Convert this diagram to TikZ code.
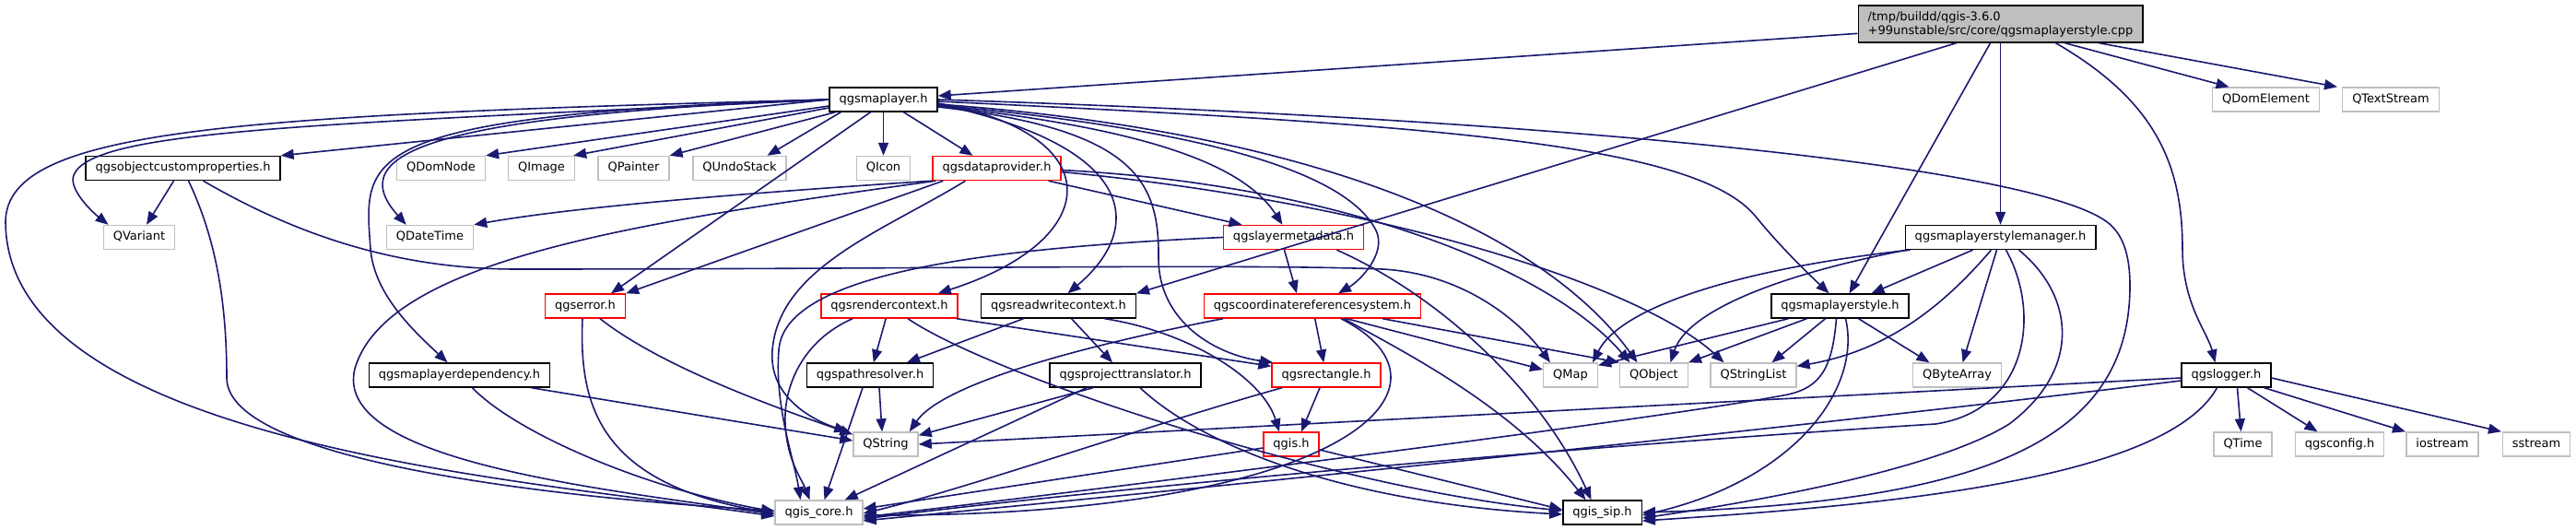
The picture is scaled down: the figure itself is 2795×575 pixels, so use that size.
\documentclass[tikz,border=0pt]{standalone}
\usepackage{fontspec}
\setmainfont{DejaVu Sans}
\usetikzlibrary{arrows.meta}
\definecolor{edgec}{HTML}{191970}
\definecolor{extc}{HTML}{BFBFBF}
\definecolor{redc}{HTML}{FF0000}
\definecolor{cppfill}{HTML}{BFBFBF}
\begin{document}
\begin{tikzpicture}[x=1pt,y=-1pt,
  nd/.style={line width=1.4pt, fill=white, inner xsep=10.5pt, inner ysep=0pt, minimum height=26pt, text height=9.6pt, text depth=2.9pt, font=\fontsize{13}{15}\selectfont},
  blk/.style={nd, draw=black},
  trn/.style={nd, draw=redc},
  ext/.style={nd, draw=extc},
  e/.style={draw=edgec, line width=1.6pt, -{Triangle[length=14pt,width=11pt]}}]
\fill[white] (0,0) rectangle (2795,575);
\useasboundingbox (0,0) rectangle (2795,575);

% nodes
\node[draw=black, line width=1.4pt, fill=cppfill, align=left, inner xsep=10.5pt, inner ysep=4pt, minimum height=40pt, font=\fontsize{13}{15}\selectfont] (CPP) at (2170.5,26) {/tmp/buildd/qgis-3.6.0\\+99unstable/src/core/qgsmaplayerstyle.cpp};
\node[ext] (QDomElement) at (2458.5,108) {QDomElement};
\node[ext] (QTextStream) at (2594,108) {QTextStream};
\node[blk] (ML) at (958.5,108) {qgsmaplayer.h};
\node[blk] (OCP) at (198.5,182.5) {qgsobjectcustomproperties.h};
\node[ext] (QDomNode) at (478.5,182.5) {QDomNode};
\node[ext] (QImage) at (587.5,182.5) {QImage};
\node[ext] (QPainter) at (687.5,182.5) {QPainter};
\node[ext] (QUndoStack) at (802.5,182.5) {QUndoStack};
\node[ext] (QIcon) at (958.5,182.5) {QIcon};
\node[trn] (DP) at (1081.5,182.5) {qgsdataprovider.h};
\node[ext] (QVariant) at (151,257.5) {QVariant};
\node[ext] (QDateTime) at (466.5,257.5) {QDateTime};
\node[trn] (LM) at (1403.5,257.5) {qgslayermetadata.h};
\node[blk] (SM) at (2170.5,257.5) {qgsmaplayerstylemanager.h};
\node[trn] (ERR) at (635,332) {qgserror.h};
\node[trn] (RC) at (965,332) {qgsrendercontext.h};
\node[blk] (RWC) at (1148.5,332) {qgsreadwritecontext.h};
\node[trn] (CRS) at (1424,332) {qgscoordinatereferencesystem.h};
\node[blk] (STY) at (1996.5,332) {qgsmaplayerstyle.h};
\node[blk] (MLD) at (498.5,407) {qgsmaplayerdependency.h};
\node[blk] (PR) at (944,407) {qgspathresolver.h};
\node[blk] (PT) at (1221,407) {qgsprojecttranslator.h};
\node[trn] (RECT) at (1439,407) {qgsrectangle.h};
\node[ext] (QMap) at (1704,407) {QMap};
\node[ext] (QObject) at (1794.5,407) {QObject};
\node[ext] (QStringList) at (1902.5,407) {QStringList};
\node[ext] (QByteArray) at (2123.5,407) {QByteArray};
\node[blk] (LOG) at (2415.5,407) {qgslogger.h};
\node[ext] (QString) at (961,482) {QString};
\node[trn] (QGIS) at (1401,482) {qgis.h};
\node[ext] (QTime) at (2433.5,482) {QTime};
\node[ext] (CFG) at (2538.5,482) {qgsconfig.h};
\node[ext] (IOS) at (2650,482) {iostream};
\node[ext] (SSS) at (2752,482) {sstream};
\node[ext] (CORE) at (888.5,556) {qgis\_core.h};
\node[blk] (SIP) at (1738.5,556) {qgis\_sip.h};

% cpp
\draw[e] (CPP) -- (ML);
\draw[e] ([xshift=-48pt]CPP.south) -- (RWC.north east);
\draw[e] ([xshift=-11pt]CPP.south) -- ([xshift=10pt]STY.north);
\draw[e] (CPP) -- (SM);
\draw[e] ([xshift=60pt]CPP.south) .. controls (2340,110) and (2368,180) .. (2368,270) .. controls (2368,330) and (2395,360) .. ([xshift=-12pt]LOG.north);
\draw[e] ([xshift=70pt]CPP.south) -- ([xshift=-40pt]QDomElement.north);
\draw[e] ([xshift=107pt]CPP.south) -- ([xshift=-58pt]QTextStream.north);
% qgsmaplayer.h
\draw[e] (ML.west) .. controls (250,125) and (8,140) .. (6,240) .. controls (6,480) and (560,520) .. ([yshift=-4pt]CORE.west);
\draw[e] (ML.west) .. controls (350,135) and (100,140) .. (80,190) .. controls (74,205) and (100,230) .. ([xshift=6pt]QVariant.north west);
\draw[e] (ML.west) -- (OCP.north east);
\draw[e] (ML.west) .. controls (470,125) and (370,165) .. ([xshift=22pt]QDateTime.north west);
\draw[e] (ML.west) .. controls (380,125) and (395,170) .. (402,270) .. controls (406,320) and (450,360) .. ([xshift=-13pt]MLD.north);
\draw[e] ([yshift=-7pt]ML.west) -- (QDomNode.north east);
\draw[e] ([yshift=-9pt]ML.west) -- ([xshift=-2pt]QImage.north east);
\draw[e] ([xshift=7pt]ML.south west) -- (QPainter.north east);
\draw[e] ([xshift=13pt]ML.south west) -- ([xshift=30pt]QUndoStack.north);
\draw[e] (ML) -- (QIcon);
\draw[e] ([xshift=22pt]ML.south) -- ([xshift=-26pt]DP.north);
\draw[e] ([xshift=-14pt]ML.south) -- ([xshift=28pt]ERR.north);
\draw[e] ([yshift=-4pt]ML.east) .. controls (1205,145) and (1200,260) .. ([xshift=-22pt]RC.north east);
\draw[e] ([yshift=-5pt]ML.east) .. controls (1240,160) and (1240,250) .. ([xshift=10pt]RWC.north);
\draw[e] ([yshift=-8pt]ML.east) .. controls (1230,140) and (1258,195) .. (1257,280) .. controls (1257,350) and (1320,385) .. ([xshift=2pt]RECT.north west);
\draw[e] ([yshift=-7pt]ML.east) .. controls (1250,140) and (1350,180) .. ([xshift=-12pt]LM.north);
\draw[e] ([yshift=-6pt]ML.east) .. controls (1300,140) and (1460,185) .. (1493,250) .. controls (1505,275) and (1475,305) .. ([xshift=28pt]CRS.north);
\draw[e] ([yshift=-5pt]ML.east) .. controls (1450,145) and (1680,260) .. ([xshift=-18pt]QObject.north);
\draw[e] ([yshift=-2pt]ML.east) .. controls (1550,135) and (1840,155) .. (1905,235) .. controls (1931,267) and (1960,295) .. ([xshift=-12pt]STY.north);
\draw[e] (ML.east) .. controls (1700,130) and (2200,180) .. (2285,240) .. controls (2305,254) and (2311,280) .. (2311,310) .. controls (2311,480) and (2150,545) .. (SIP.east);
% qgsobjectcustomproperties.h
\draw[e] ([xshift=-10pt]OCP.south) -- ([xshift=8pt]QVariant.north);
\draw[e] ([xshift=6pt]OCP.south) .. controls (235,260) and (246,330) .. (246,410) .. controls (246,500) and (600,540) .. ([yshift=2pt]CORE.west);
\draw[e] ([xshift=22pt]OCP.south) .. controls (330,260) and (440,292) .. (560,292) .. controls (1000,292) and (1350,286) .. (1500,292) .. controls (1590,297) and (1650,350) .. ([xshift=-22pt]QMap.north);
% qgsdataprovider.h
\draw[e] (DP.south west) .. controls (800,210) and (620,225) .. (QDateTime.north east);
\draw[e] ([xshift=4pt]DP.south west) .. controls (700,240) and (420,280) .. (385,400) .. controls (360,500) and (650,530) .. ([yshift=-2pt]CORE.west);
\draw[e] ([xshift=12pt]DP.south west) -- (ERR.north east);
\draw[e] ([xshift=-34pt]DP.south) .. controls (960,250) and (845,290) .. (838,380) .. controls (834,430) and (880,455) .. ([xshift=-6pt]QString.north west);
\draw[e] ([xshift=56pt]DP.south) -- ([xshift=-56pt]LM.north);
\draw[e] ([yshift=-2pt]DP.east) .. controls (1450,200) and (1680,290) .. ([xshift=-26pt]QObject.north);
\draw[e] ([yshift=-4pt]DP.east) .. controls (1500,220) and (1780,310) .. ([xshift=-32pt]QStringList.north);
% qgserror.h
\draw[e] ([xshift=16pt]ERR.south) .. controls (720,400) and (850,445) .. ([yshift=-3pt]QString.north west);
\draw[e] ([xshift=-3pt]ERR.south) .. controls (628,440) and (650,525) .. ([yshift=-1pt]CORE.west);
% qgsmaplayerdependency.h
\draw[e] ([xshift=78pt]MLD.south) -- ([yshift=4pt]QString.west);
\draw[e] ([xshift=14pt]MLD.south) .. controls (560,470) and (700,530) .. ([yshift=1pt]CORE.west);
% qgsrendercontext.h
\draw[e] (RC) -- (PR);
\draw[e] ([xshift=-2pt]RC.south east) -- ([yshift=-4pt]RECT.north west);
\draw[e] ([xshift=-40pt]RC.south) .. controls (870,370) and (850,420) .. (852,460) .. controls (854,500) and (870,520) .. ([xshift=-10pt]CORE.north);
\draw[e] ([xshift=20pt]RC.south) .. controls (1080,410) and (1450,530) .. ([yshift=2pt]SIP.west);
% qgsreadwritecontext.h
\draw[e] ([xshift=-38pt]RWC.south) -- ([xshift=40pt]PR.north);
\draw[e] ([xshift=14pt]RWC.south) -- ([xshift=-14pt]PT.north);
\draw[e] ([xshift=50pt]RWC.south) .. controls (1290,360) and (1370,410) .. ([xshift=-13pt]QGIS.north);
% qgscoordinatereferencesystem.h
\draw[e] (CRS) -- (RECT);
\draw[e] ([xshift=-97pt]CRS.south) .. controls (1150,380) and (1020,420) .. ([xshift=-10pt]QString.north east);
\draw[e] ([xshift=37pt]CRS.south) -- ([yshift=6pt]QMap.west);
\draw[e] ([xshift=76pt]CRS.south) -- (QObject.north west);
\draw[e] ([xshift=31pt]CRS.south) .. controls (1600,420) and (1460,560) .. ([yshift=-3pt]CORE.east);
\draw[e] ([xshift=34pt]CRS.south) .. controls (1520,380) and (1640,440) .. ([xshift=-18pt]SIP.north);
% qgslayermetadata.h
\draw[e] ([xshift=-10pt]LM.south) -- ([xshift=-17pt]CRS.north);
\draw[e] ([xshift=47pt]LM.south) .. controls (1560,320) and (1670,420) .. ([xshift=-12pt]SIP.north);
\draw[e] (LM.west) .. controls (1050,270) and (850,300) .. (845,380) .. controls (840,440) and (862,500) .. ([xshift=-20pt]CORE.north);
% qgspathresolver.h
\draw[e] ([xshift=10pt]PR.south) -- ([xshift=-4pt]QString.north);
\draw[e] ([xshift=-8pt]PR.south) -- ([xshift=6pt]CORE.north);
% qgsprojecttranslator.h
\draw[e] ([xshift=-35pt]PT.south) -- ([yshift=-4pt]QString.north east);
\draw[e] ([xshift=-42pt]PT.south) -- ([xshift=-20pt]CORE.north east);
\draw[e] ([xshift=16pt]PT.south) .. controls (1300,480) and (1450,545) .. ([yshift=-2pt]SIP.west);
% qgsrectangle.h
\draw[e] ([xshift=-7pt]RECT.south) -- ([xshift=11pt]QGIS.north);
\draw[e] ([xshift=-48pt]RECT.south) .. controls (1250,460) and (1050,530) .. ([yshift=-1pt]CORE.east);
% qgis.h
\draw[e] ([yshift=-4pt]QGIS.west) -- ([yshift=4pt]CORE.east);
\draw[e] ([yshift=-6pt]QGIS.east) -- ([yshift=3pt]SIP.west);
% qgsmaplayerstyle.h
\draw[e] ([xshift=-56pt]STY.south) -- ([yshift=-3pt]QMap.north east);
\draw[e] ([xshift=-36pt]STY.south) -- (QObject.north east);
\draw[e] ([xshift=-16pt]STY.south) -- ([xshift=20pt]QStringList.north);
\draw[e] ([xshift=20pt]STY.south) -- ([xshift=-30pt]QByteArray.north);
\draw[e] ([xshift=-4pt]STY.south) .. controls (1988,400) and (1975,420) .. (1940,428) .. controls (1800,455) and (1200,530) .. ([yshift=-5pt]CORE.east);
\draw[e] ([xshift=6pt]STY.south) .. controls (2020,420) and (1950,520) .. ([yshift=-3pt]SIP.east);
% qgsmaplayerstylemanager.h
\draw[e] ([xshift=-30pt]SM.south) -- ([xshift=34pt]STY.north);
\draw[e] ([xshift=6pt]SM.south west) .. controls (1900,290) and (1760,330) .. ([xshift=-6pt]QMap.north east);
\draw[e] ([xshift=2pt]SM.south west) .. controls (1920,300) and (1830,340) .. ([xshift=18pt]QObject.north);
\draw[e] ([xshift=-10pt]SM.south) .. controls (2110,330) and (2050,380) .. ([yshift=-4pt]QStringList.north east);
\draw[e] ([xshift=-4pt]SM.south) -- ([xshift=6pt]QByteArray.north);
\draw[e] ([xshift=6pt]SM.south) .. controls (2215,340) and (2200,445) .. (2100,460) .. controls (1700,485) and (1200,530) .. ([yshift=-7pt]CORE.east);
\draw[e] ([xshift=20pt]SM.south) .. controls (2250,320) and (2260,400) .. (2180,460) .. controls (2100,510) and (1900,545) .. ([yshift=-6pt]SIP.east);
% qgslogger.h
\draw[e] ([yshift=-3pt]LOG.west) -- (QString.east);
\draw[e] ([yshift=-6pt]LOG.west) .. controls (1900,470) and (1300,530) .. ([yshift=-9pt]CORE.east);
\draw[e] ([xshift=-10pt]LOG.south) .. controls (2350,520) and (2050,548) .. ([yshift=-9pt]SIP.east);
\draw[e] ([xshift=12pt]LOG.south) -- ([xshift=-2pt]QTime.north);
\draw[e] ([xshift=23pt]LOG.south) -- ([xshift=-24pt]CFG.north);
\draw[e] ([xshift=-8pt]LOG.south east) -- ([xshift=-40pt]IOS.north);
\draw[e] ([yshift=-3pt]LOG.east) -- ([xshift=-38pt]SSS.north);
\end{tikzpicture}
\end{document}
